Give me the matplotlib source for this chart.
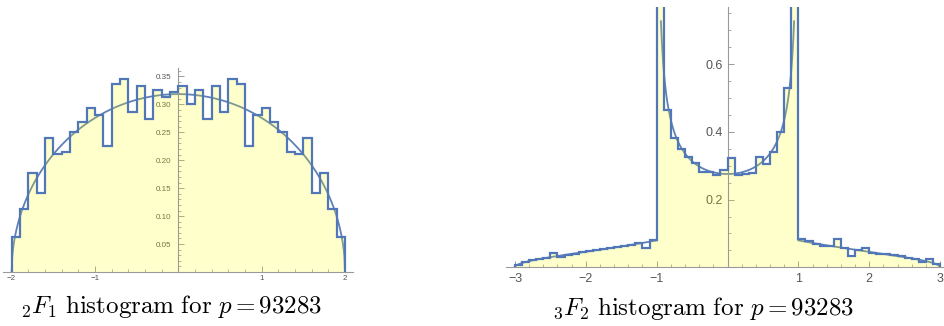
import numpy as np
import matplotlib
matplotlib.use("Agg")
import matplotlib.pyplot as plt
from matplotlib.ticker import MultipleLocator, FuncFormatter

plt.rcParams["mathtext.fontset"] = "cm"
plt.rcParams["font.family"] = ["Liberation Sans", "DejaVu Sans"]

# 2F1: 40 bins of width 0.1 on [-2, 2]
f21_range = (-2.0, 2.0)
f21_heights = [
    0.063, 0.112, 0.178, 0.142, 0.239, 0.211, 0.215, 0.250, 0.268, 0.293,
    0.281, 0.226, 0.336, 0.345, 0.286, 0.333, 0.274, 0.326, 0.314, 0.322,
    0.332, 0.300, 0.326, 0.274, 0.333, 0.286, 0.345, 0.336, 0.226, 0.281,
    0.293, 0.268, 0.250, 0.215, 0.211, 0.239, 0.142, 0.178, 0.112, 0.062,
]

# 3F2: 60 bins of width 0.1 on [-3, 3]
f32_range = (-3.0, 3.0)
f32_heights = [
    # -3.0 .. -1.1
    0.008, 0.015, 0.021, 0.025, 0.028, 0.041, 0.031, 0.037, 0.039, 0.044,
    0.048, 0.051, 0.054, 0.057, 0.060, 0.064, 0.067, 0.071, 0.058, 0.080,
    # -1.0 .. 0.9
    1.090, 0.466, 0.383, 0.351, 0.326, 0.309, 0.281, 0.281, 0.272, 0.289,
    0.324, 0.272, 0.275, 0.280, 0.326, 0.306, 0.341, 0.400, 0.530, 1.090,
    # 1.0 .. 2.9
    0.083, 0.077, 0.070, 0.064, 0.063, 0.084, 0.057, 0.033, 0.050, 0.057,
    0.043, 0.040, 0.038, 0.036, 0.032, 0.028, 0.024, 0.017, 0.025, 0.009,
]

captions = [r"${}_2F_1\ \mathrm{histogram\ for}\ p = 93283$",
            r"${}_3F_2\ \mathrm{histogram\ for}\ p = 93283$"]

blue = "#5E81B5"
edge_blue = "#5277B8"
tick_grey = "#555555"
axis_grey = "#9a9a9a"


def semicircle(x):
    return np.sqrt(4 - x ** 2) / (2 * np.pi)


def so3_part(t):
    # trace density of SO(3), weight 1/2
    return np.sqrt(3 - t) / np.sqrt(1 + t) / (4 * np.pi)


def minus_part(t):
    return np.sqrt(3 + t) / np.sqrt(1 - t) / (4 * np.pi)


def fmt_int(v, pos):
    if abs(v) < 1e-9:
        return ""
    return f"{v:.0f}".replace("-", "\u2212")


def fmt_dec(nd):
    def f(v, pos):
        if abs(v) < 1e-9:
            return ""
        return f"{v:.{nd}f}"
    return f


def style_axes(ax, size, xpad, ypad):
    for s in ["top", "right"]:
        ax.spines[s].set_visible(False)
    ax.spines["left"].set_position(("data", 0))
    ax.spines["bottom"].set_position(("data", 0))
    for s in ["left", "bottom"]:
        ax.spines[s].set_color(axis_grey)
        ax.spines[s].set_linewidth(0.8)
    ax.tick_params(which="both", direction="in", colors=axis_grey,
                   labelcolor=tick_grey, labelsize=size)
    ax.tick_params(axis="x", pad=xpad)
    ax.tick_params(axis="y", pad=ypad)
    ax.tick_params(which="major", length=4, width=0.7)
    ax.tick_params(which="minor", length=2, width=0.6)
    ax.set_facecolor("none")


def draw_hist(ax, heights, rng):
    edges = np.linspace(rng[0], rng[1], len(heights) + 1)
    ax.stairs(heights, edges, fill=True, color=(1.0, 1.0, 0.0), alpha=0.2,
              linewidth=0, zorder=2)
    ax.stairs(heights, edges, fill=False, color=edge_blue, linewidth=1.6,
              zorder=3)


fig = plt.figure(figsize=(9.44, 3.26), dpi=100)

# left panel
ax1 = fig.add_axes([0.0035, 0.1656, 0.3708, 0.6258])
x = np.linspace(-2, 2, 600)
ax1.plot(x, semicircle(x), color=blue, linewidth=1.3, zorder=1)
draw_hist(ax1, f21_heights, f21_range)
ax1.set_xlim(-2.1, 2.1)
ax1.set_ylim(0, 0.365)
style_axes(ax1, 5.8, 2.5, 5)
ax1.xaxis.set_major_locator(MultipleLocator(1))
ax1.xaxis.set_minor_locator(MultipleLocator(0.2))
ax1.yaxis.set_major_locator(MultipleLocator(0.05))
ax1.yaxis.set_minor_locator(MultipleLocator(0.01))
ax1.xaxis.set_major_formatter(FuncFormatter(fmt_int))
ax1.yaxis.set_major_formatter(FuncFormatter(fmt_dec(2)))

# right panel
ax2 = fig.add_axes([0.536, 0.18, 0.464, 0.7994])
tl = np.linspace(-3, -1, 300)
tc = np.linspace(-0.94, 0.94, 400)
tr = np.linspace(1, 3, 300)
ax2.plot(tl, minus_part(tl), color=blue, linewidth=1.3, zorder=1)
ax2.plot(tc, minus_part(tc) + so3_part(tc), color=blue, linewidth=1.3, zorder=1)
ax2.plot(tr, so3_part(tr), color=blue, linewidth=1.3, zorder=1)
draw_hist(ax2, f32_heights, f32_range)
ax2.set_xlim(-3.127, 3.056)
ax2.set_ylim(0, 0.77)
style_axes(ax2, 9, 4, 3.5)
ax2.xaxis.set_major_locator(MultipleLocator(1))
ax2.xaxis.set_minor_locator(MultipleLocator(0.2))
ax2.yaxis.set_major_locator(MultipleLocator(0.2))
ax2.yaxis.set_minor_locator(MultipleLocator(0.05))
ax2.xaxis.set_major_formatter(FuncFormatter(fmt_int))
ax2.yaxis.set_major_formatter(FuncFormatter(fmt_dec(1)))

fig.text(171 / 944, 13 / 326, captions[0], ha="center", va="baseline",
         fontsize=18)
fig.text(703 / 944, 11 / 326, captions[1], ha="center", va="baseline",
         fontsize=18)

fig.savefig("out.png", dpi=100)
